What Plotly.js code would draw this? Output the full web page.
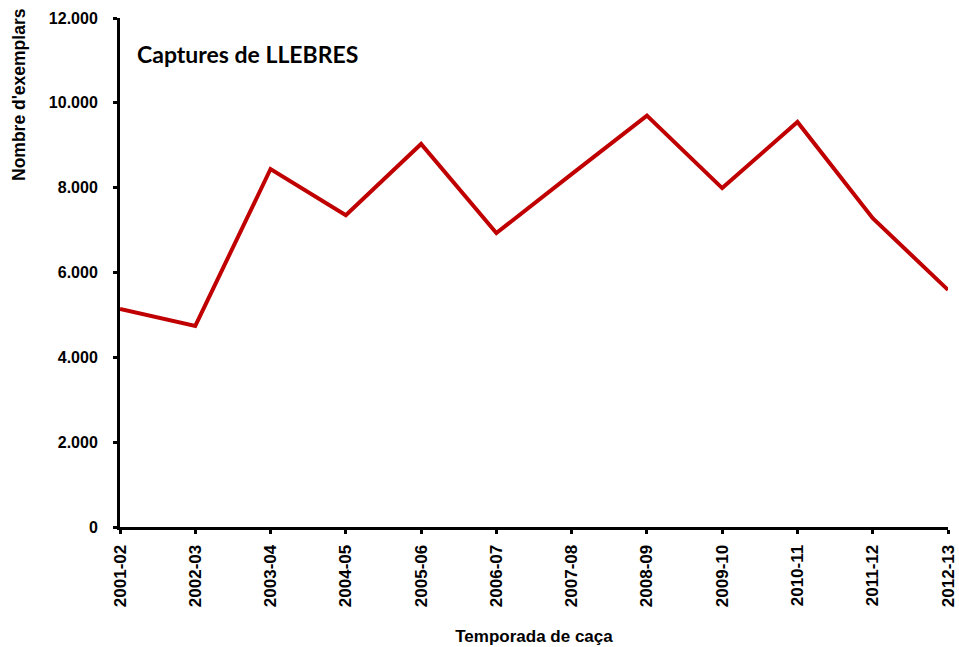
<!DOCTYPE html>
<html>
<head>
<meta charset="utf-8">
<script src="https://cdn.plot.ly/plotly-3.0.1.min.js"></script>
<style>html,body{margin:0;padding:0;background:#fff;}#chart{width:959px;height:647px;}</style>
</head>
<body>
<div id="chart"></div>
<script>
const seasons = ["2001-02","2002-03","2003-04","2004-05","2005-06","2006-07","2007-08","2008-09","2009-10","2010-11","2011-12","2012-13"];
const captures = [5140, 4740, 8440, 7350, 9030, 6930, 8320, 9700, 7990, 9550, 7280, 5590];
const yTicks = [0, 2000, 4000, 6000, 8000, 10000, 12000];

const trace = {
  x: seasons, y: captures, type: 'scatter', mode: 'lines',
  line: {color: '#C00000', width: 4}, hoverinfo: 'skip'
};

const fam = 'Liberation Sans, Arial, sans-serif';

const layout = {
  width: 959, height: 647,
  margin: {l: 120, r: 11, t: 18, b: 120},
  paper_bgcolor: '#fff', plot_bgcolor: '#fff',
  separators: ',.',
  showlegend: false,
  xaxis: {
    type: 'category', range: [0, 11],
    showline: true, linecolor: '#000', linewidth: 3,
    ticks: 'outside', ticklen: 4, tickwidth: 3, tickcolor: '#000',
    ticklabelstandoff: 4,
    tickangle: -90, tickfont: {family: fam, size: 17, color: '#000', weight: 'bold'},
    showgrid: false, zeroline: false,
    title: {text: 'Temporada de caça', font: {family: fam, size: 17, color: '#000', weight: 'bold'}, standoff: 24}
  },
  yaxis: {
    range: [0, 12000], tickvals: yTicks, tickformat: ',d',
    showline: true, linecolor: '#000', linewidth: 3,
    ticks: 'outside', ticklen: 4, tickwidth: 3, tickcolor: '#000',
    ticklabelstandoff: 12,
    tickfont: {family: fam, size: 16, color: '#000', weight: 'bold'},
    showgrid: false, zeroline: false
  },
  annotations: [
    {text: '<b>Captures de LLEBRES</b>', xref: 'paper', yref: 'paper', x: 0.018, y: 0.93,
     xanchor: 'left', yanchor: 'middle', showarrow: false,
     font: {family: 'Lato, Open Sans, sans-serif', size: 23, color: '#000'}},
    {text: "<b>Nombre d'exemplars</b>", xref: 'paper', yref: 'paper', x: -0.122, y: (527-94)/509,
     xanchor: 'center', yanchor: 'middle', textangle: -90, showarrow: false,
     font: {family: fam, size: 17.5, color: '#000'}}
  ]
};

Plotly.newPlot('chart', [trace], layout, {displayModeBar: false, staticPlot: true});
</script>
</body>
</html>
